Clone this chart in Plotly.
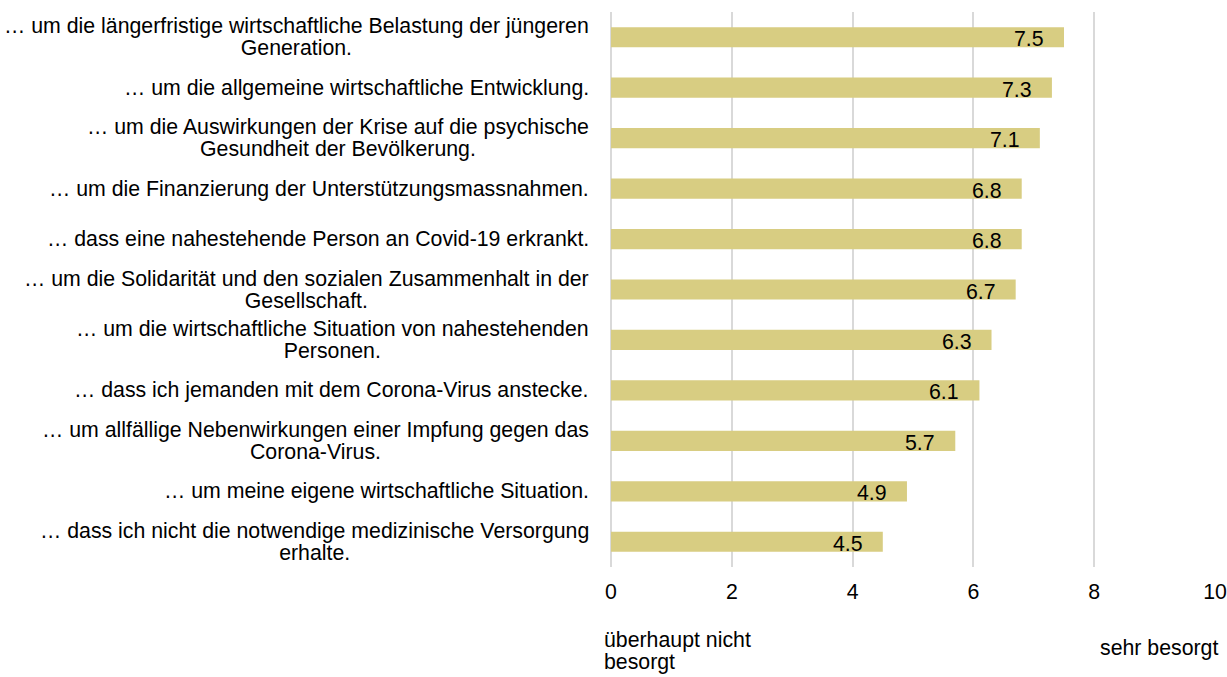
import plotly.graph_objects as go

categories = [
    "… um die längerfristige wirtschaftliche Belastung der jüngeren<br>Generation.",
    "… um die allgemeine wirtschaftliche Entwicklung.",
    "… um die Auswirkungen der Krise auf die psychische<br>Gesundheit der Bevölkerung.",
    "… um die Finanzierung der Unterstützungsmassnahmen.",
    "… dass eine nahestehende Person an Covid-19 erkrankt.",
    "… um die Solidarität und den sozialen Zusammenhalt in der<br>Gesellschaft.",
    "… um die wirtschaftliche Situation von nahestehenden<br>Personen.",
    "… dass ich jemanden mit dem Corona-Virus anstecke.",
    "… um allfällige Nebenwirkungen einer Impfung gegen das<br>Corona-Virus.",
    "… um meine eigene wirtschaftliche Situation.",
    "… dass ich nicht die notwendige medizinische Versorgung<br>erhalte.",
]
values = [7.5, 7.3, 7.1, 6.8, 6.8, 6.7, 6.3, 6.1, 5.7, 4.9, 4.5]
tick_vals = [0, 2, 4, 6, 8, 10]
low_label = "überhaupt nicht<br>besorgt"
high_label = "sehr besorgt"

FONT = "Liberation Sans, Arial, sans-serif"
FS = 21.3
LINE_FS = 17  # base size that sets the (tighter) line spacing of wrapped labels
BLACK = "#000000"


def tight(text):
    # keep glyphs at FS while line spacing follows LINE_FS
    return "<br>".join(
        f"<span style='font-size:{FS}px'>{ln}</span>" for ln in text.split("<br>")
    )


fig = go.Figure()
fig.add_trace(go.Bar(
    x=values, y=list(range(len(categories))), orientation="h",
    marker=dict(color="#D8CD82", line=dict(width=0)),
    hoverinfo="skip",
))

annotations = []
for i, (c, v) in enumerate(zip(categories, values)):
    annotations.append(dict(
        x=0, xref="paper", y=i, yref="y", text=tight(c), showarrow=False,
        xanchor="right", yanchor="middle", align="center", xshift=-20,
        font=dict(family=FONT, size=LINE_FS, color=BLACK),
    ))
    annotations.append(dict(
        x=v, xref="x", y=i, yref="y", text=f"{v:.1f}", showarrow=False,
        xanchor="right", yanchor="middle", xshift=-18, yshift=-2,
        font=dict(family=FONT, size=FS, color=BLACK),
    ))

annotations.append(dict(
    x=0, xref="paper", y=-0.151, yref="paper", text=tight(low_label),
    showarrow=False, xanchor="left", yanchor="middle", align="left", xshift=-9,
    font=dict(family=FONT, size=LINE_FS, color=BLACK),
))
annotations.append(dict(
    x=1, xref="paper", y=-0.146, yref="paper", text=high_label, showarrow=False,
    xanchor="right", yanchor="middle", align="right", xshift=5,
    font=dict(family=FONT, size=FS, color=BLACK),
))

fig.update_layout(
    width=1227, height=677,
    margin=dict(l=611, r=12, t=12, b=110, autoexpand=False),
    paper_bgcolor="white", plot_bgcolor="white",
    showlegend=False, bargap=0.6,
    font=dict(family=FONT, size=FS, color=BLACK),
    annotations=annotations,
    xaxis=dict(
        range=[0, 10], tickvals=tick_vals, ticktext=[str(t) for t in tick_vals],
        showgrid=True, gridcolor="#D9D9D9", gridwidth=1.5,
        zeroline=True, zerolinecolor="#D9D9D9", zerolinewidth=1.5,
        showline=False, ticks="", ticklabelstandoff=10, automargin=False,
        tickfont=dict(family=FONT, size=FS, color=BLACK),
    ),
    yaxis=dict(
        range=[len(categories) - 0.5, -0.5], showticklabels=False,
        showgrid=False, zeroline=False, showline=False, ticks="",
        automargin=False,
    ),
)

fig.write_html(
    "out.html",
    config={"displayModeBar": False},
    post_script="document.body.style.margin='0';",
)
